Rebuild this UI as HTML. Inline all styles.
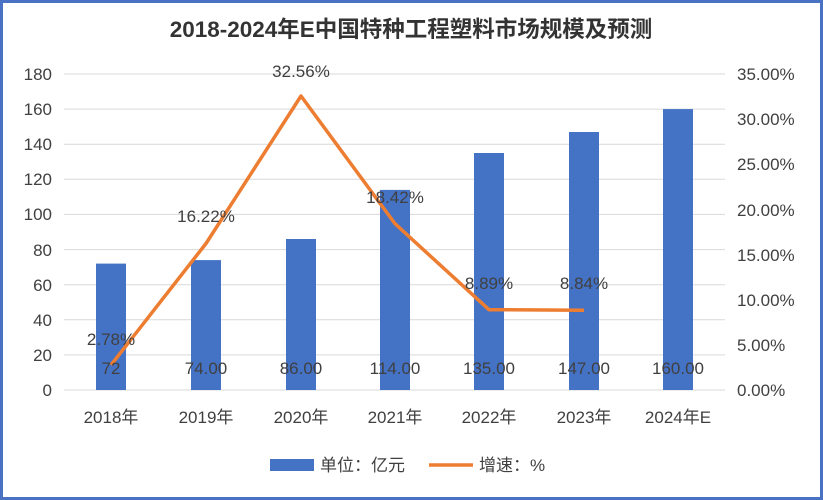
<!DOCTYPE html>
<html><head><meta charset="utf-8"><style>
html,body{margin:0;padding:0;background:#fff}
svg{display:block}
text{font-family:"Liberation Sans","Noto Sans CJK SC",sans-serif;fill:#404040}
</style></head><body>
<svg width="823" height="500" viewBox="0 0 823 500">
<rect x="1.5" y="1.5" width="820" height="497" fill="#fff" stroke="#4a72c4" stroke-width="3"/>
<text x="411" y="37" text-anchor="middle" font-size="22.5" font-weight="bold" style="fill:#333">2018-2024年E中国特种工程塑料市场规模及预测</text>
<g stroke="#d9d9d9" stroke-width="1">
<line x1="64" x2="725" y1="74" y2="74"/><line x1="64" x2="725" y1="109.1" y2="109.1"/>
<line x1="64" x2="725" y1="144.2" y2="144.2"/><line x1="64" x2="725" y1="179.3" y2="179.3"/>
<line x1="64" x2="725" y1="214.4" y2="214.4"/><line x1="64" x2="725" y1="249.6" y2="249.6"/>
<line x1="64" x2="725" y1="284.7" y2="284.7"/><line x1="64" x2="725" y1="319.8" y2="319.8"/>
<line x1="64" x2="725" y1="354.9" y2="354.9"/><line x1="64" x2="725" y1="390" y2="390"/>
</g>
<g font-size="17" text-anchor="end">
<text x="52" y="80">180</text><text x="52" y="115">160</text><text x="52" y="150">140</text>
<text x="52" y="185">120</text><text x="52" y="220">100</text><text x="52" y="256">80</text>
<text x="52" y="291">60</text><text x="52" y="326">40</text><text x="52" y="361">20</text><text x="52" y="396">0</text>
</g>
<g font-size="17" text-anchor="start">
<text x="737" y="80">35.00%</text><text x="737" y="125">30.00%</text><text x="737" y="170">25.00%</text>
<text x="737" y="216">20.00%</text><text x="737" y="261">15.00%</text><text x="737" y="306">10.00%</text>
<text x="737" y="351">5.00%</text><text x="737" y="396">0.00%</text>
</g>
<g fill="#4472c4">
<rect x="96" y="263.6" width="30" height="126.4"/>
<rect x="191" y="260.1" width="30" height="129.9"/>
<rect x="286" y="239" width="30" height="151"/>
<rect x="380" y="189.9" width="30" height="200.1"/>
<rect x="474" y="153" width="30" height="237"/>
<rect x="569" y="132" width="30" height="258"/>
<rect x="663" y="109.1" width="30" height="280.9"/>
</g>
<polyline points="111,365 206,243.5 301,96 395,223.7 489,309.7 584,310.2" fill="none" stroke="#ed7d31" stroke-width="3.5" stroke-linejoin="round"/>
<g font-size="17" text-anchor="middle">
<text x="111" y="374">72</text><text x="206" y="374">74.00</text><text x="301" y="374">86.00</text>
<text x="395" y="374">114.00</text><text x="489" y="374">135.00</text><text x="584" y="374">147.00</text><text x="678" y="374">160.00</text>
<text x="111" y="345">2.78%</text><text x="206" y="222">16.22%</text><text x="301" y="77">32.56%</text>
<text x="395" y="203">18.42%</text><text x="489" y="289">8.89%</text><text x="584" y="289">8.84%</text>
</g>
<g font-size="17" text-anchor="middle">
<text x="111" y="423">2018年</text><text x="206" y="423">2019年</text><text x="301" y="423">2020年</text>
<text x="395" y="423">2021年</text><text x="489" y="423">2022年</text><text x="584" y="423">2023年</text><text x="678" y="423">2024年E</text>
</g>
<rect x="270" y="459" width="44" height="12" fill="#4472c4"/>
<text x="320" y="471" font-size="17">单位：亿元</text>
<line x1="429" x2="473" y1="465" y2="465" stroke="#ed7d31" stroke-width="3.5"/>
<text x="479" y="471" font-size="17">增速：%</text>
</svg>
</body></html>
